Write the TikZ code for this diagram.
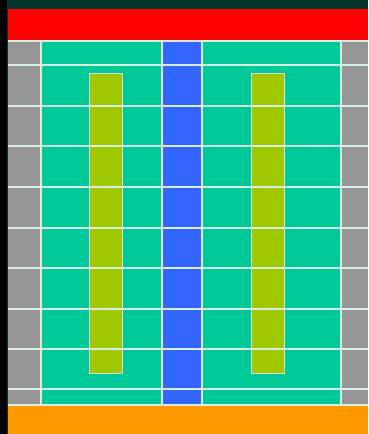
\documentclass[tikz,border=0pt]{standalone}
\usepackage{xcolor}
\usepackage{tikz}

\definecolor{darkbg}{RGB}{2,52,42}
\definecolor{barred}{RGB}{255,0,0}
\definecolor{bartorange}{RGB}{255,153,0}
\definecolor{teal}{RGB}{0,200,150}
\definecolor{lane}{RGB}{51,102,255}
\definecolor{edge}{RGB}{150,150,150}
\definecolor{lime}{RGB}{160,200,0}
\definecolor{grid}{RGB}{215,240,225}

\begin{document}
\begin{tikzpicture}
	[x=1pt, y=-1pt,
	gridline/.style={draw=grid, line width=1.4pt},
	pillar/.style={fill=lime, draw=grid, line width=0.9pt}]

	% background and frame
	\fill[darkbg] (0,0) rectangle (368,434);
	\fill[black] (0,0) rectangle (7,434);
	\fill[barred] (8,9) rectangle (368,40);
	\fill[bartorange] (8,406) rectangle (368,434);

	% columns
	\begin{scope}
		\fill[edge] (8,41) rectangle (41,405);
		\fill[teal] (41,41) rectangle (162,405);
		\fill[lane] (162,41) rectangle (202,405);
		\fill[teal] (202,41) rectangle (341,405);
		\fill[edge] (341,41) rectangle (368,405);
	\end{scope}

	% pillars
	\draw[pillar] (89,73) rectangle (122,373);
	\draw[pillar] (251,73) rectangle (284,373);

	% grid lines
	\draw[gridline] (8,41) -- (368,41);
	\foreach \y in {65,106,146,187,228,268,309,349,389}
		\draw[gridline, line width=1.1pt] (8,\y) -- (368,\y);
	\draw[gridline] (8,405) -- (368,405);
	\foreach \x in {41,162,202,341}
		\draw[gridline] (\x,41) -- (\x,405);

\end{tikzpicture}
\end{document}
